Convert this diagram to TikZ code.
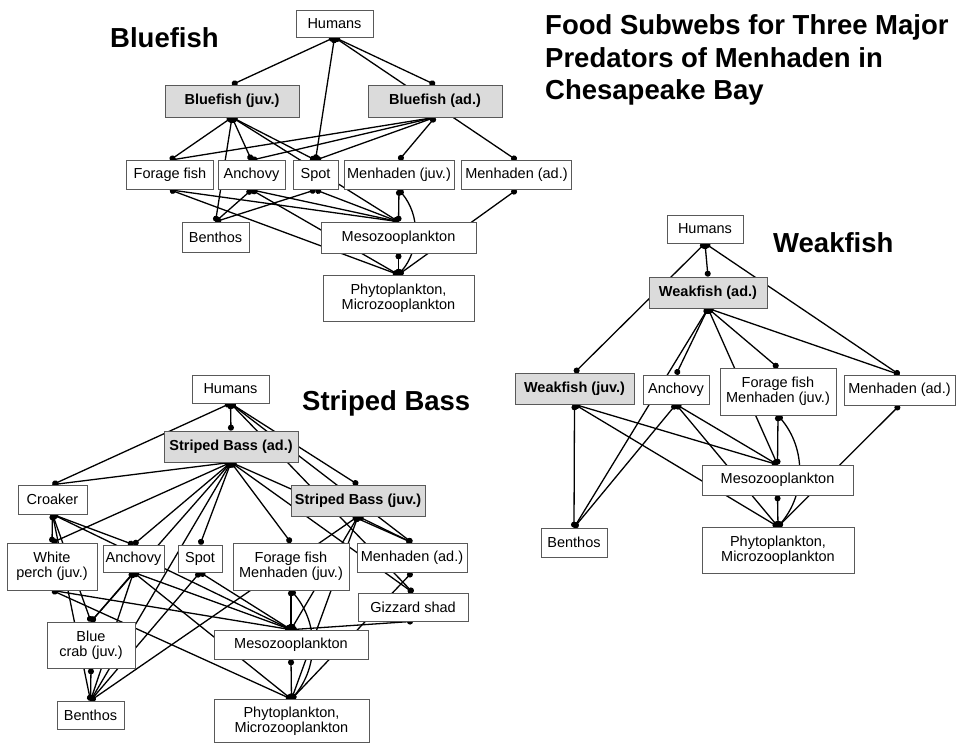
\documentclass[tikz,border=0pt]{standalone}
\usepackage{fontspec}
\setmainfont{Liberation Sans}
\usetikzlibrary{arrows.meta,backgrounds}
\tikzset{
  box/.style={draw=black!65, fill=white, line width=0.7pt, inner sep=1pt, align=center,
    font=\fontsize{14.5}{15}\selectfont},
  fish/.style={box, fill=black!14, font=\fontsize{14.5}{15}\selectfont\bfseries},
  sz/.style 2 args={minimum width=#1pt, minimum height=#2pt},
  link/.style={line width=1.3pt, {Circle[length=6pt]}-{Circle[length=6pt]}},
  heading/.style={anchor=base west, inner sep=0pt, font=\fontsize{27.5}{32.5}\selectfont\bfseries}
}

\begin{document}
\begin{tikzpicture}[x=1pt,y=-1pt]
\useasboundingbox (0,0) rectangle (956,744);

% title
\node[heading, anchor=north west, align=left] (title) at (545,14.5)
  {Food Subwebs for Three Major\\Predators of Menhaden in\\Chesapeake Bay};

% Bluefish
\node[heading] (bftitle) at (110,47) {Bluefish};
\node[box,sz={77}{27}] (bhum) at (334.5,23.5) {Humans};
\node[fish,sz={134}{32}] (bfj) at (232,101) {Bluefish (juv.)};
\node[fish,sz={134}{32}] (bfa) at (435,101) {Bluefish (ad.)};
\node[box,sz={87}{29}] (bfor) at (170,175) {Forage fish};
\node[box,sz={67}{29}] (banc) at (251.5,175) {Anchovy};
\node[box,sz={45}{29}] (bspot) at (315.5,175) {Spot};
\node[box,sz={110}{29}] (bmj) at (399,175) {Menhaden (juv.)};
\node[box,sz={110}{29}] (bma) at (516.5,175) {Menhaden (ad.)};
\node[box,sz={67}{30}] (bben) at (215.5,237) {Benthos};
\node[box,sz={155}{31}] (bmeso) at (398.5,237.5) {Mesozooplankton};
\node[box,sz={151}{46}] (bphy) at (398.5,298) {Phytoplankton,\\Microzooplankton};

% Weakfish
\node[heading] (wftitle) at (773,252) {Weakfish};
\node[box,sz={76}{28}] (whum) at (705,229) {Humans};
\node[fish,sz={118}{31}] (wfa) at (708,292.5) {Weakfish (ad.)};
\node[fish,sz={119}{31}] (wfj) at (574.5,388.5) {Weakfish (juv.)};
\node[box,sz={66}{29}] (wanc) at (676,389.5) {Anchovy};
\node[box,sz={116}{47}] (wfor) at (778,391.5) {Forage fish\\Menhaden (juv.)};
\node[box,sz={111}{30}] (wma) at (899.5,390) {Menhaden (ad.)};
\node[box,sz={151}{30}] (wmeso) at (777.5,480) {Mesozooplankton};
\node[box,sz={66}{29}] (wben) at (574,542.5) {Benthos};
\node[box,sz={152}{46}] (wphy) at (778,550) {Phytoplankton,\\Microzooplankton};

% Striped Bass
\node[heading] (sbtitle) at (302,410) {Striped Bass};
\node[box,sz={77}{28}] (shum) at (230.5,389) {Humans};
\node[fish,sz={134}{31}] (sba) at (231,446.5) {Striped Bass (ad.)};
\node[box,sz={69}{29}] (scro) at (52.5,499.5) {Croaker};
\node[fish,sz={134}{31}] (sbj) at (358,500.5) {Striped Bass (juv.)};
\node[box,sz={90}{47}] (swp) at (52,566.5) {White\\perch (juv.)};
\node[box,sz={61}{27}] (sanc) at (133.5,558.5) {Anchovy};
\node[box,sz={44}{27}] (sspot) at (200,558.5) {Spot};
\node[box,sz={116}{47}] (sfor) at (291,566.5) {Forage fish\\Menhaden (juv.)};
\node[box,sz={110}{29}] (sma) at (412,557.5) {Menhaden (ad.)};
\node[box,sz={110}{28}] (sgiz) at (413,607) {Gizzard shad};
\node[box,sz={88}{46}] (sbc) at (91,645) {Blue\\crab (juv.)};
\node[box,sz={154}{29}] (smeso) at (291,644.5) {Mesozooplankton};
\node[box,sz={67}{28}] (sben) at (90.5,715) {Benthos};
\node[box,sz={155}{43}] (sphy) at (291.5,721) {Phytoplankton,\\Microzooplankton};

\begin{pgfonlayer}{background}
  % Bluefish links
  \foreach \t in {bfj,bfa,bspot,bma} \draw[link] (bhum.south) -- (\t.north);
  \foreach \t in {bfor,banc,bben,bspot,bmeso} \draw[link] (bfj.south) -- (\t.north);
  \foreach \t in {bfor,banc,bspot,bmj} \draw[link] (bfa.south) -- (\t.north);
  \foreach \t in {bmeso,bphy} \draw[link] (bfor.south) -- (\t.north);
  \foreach \t in {bben,bmeso,bphy} \draw[link] (banc.south) -- (\t.north);
  \foreach \t in {bben,bmeso} \draw[link] (bspot.south) -- (\t.north);
  \draw[link] (bmj.south) -- (bmeso.north);
  \draw[link] (bmj.south) to[bend left=40] (bphy.north);
  \draw[link] (bma.south) -- (bphy.north);
  \draw[link] (bmeso.south) -- (bphy.north);

  % Weakfish links
  \foreach \t in {wfa,wfj,wma} \draw[link] (whum.south) -- (\t.north);
  \foreach \t in {wanc,wben,wmeso,wfor,wma} \draw[link] (wfa.south) -- (\t.north);
  \foreach \t in {wben,wmeso,wphy} \draw[link] (wfj.south) -- (\t.north);
  \foreach \t in {wben,wmeso,wphy} \draw[link] (wanc.south) -- (\t.north);
  \draw[link] (wfor.south) -- (wmeso.north);
  \draw[link] (wfor.south) to[bend left=40] (wphy.north);
  \draw[link] (wma.south) -- (wphy.north);
  \draw[link] (wmeso.south) -- (wphy.north);

  % Striped Bass links
  \foreach \t in {scro,sba,sbj,sma,sgiz} \draw[link] (shum.south) -- (\t.north);
  \foreach \t in {scro,swp,sanc,sbc,sspot,sben,sfor,sma,sgiz} \draw[link] (sba.south) -- (\t.north);
  \foreach \t in {sben,smeso,sma,sphy} \draw[link] (sbj.south) -- (\t.north);
  \foreach \t in {swp,sanc,smeso,sbc,sben} \draw[link] (scro.south) -- (\t.north);
  \foreach \t in {smeso,sphy} \draw[link] (swp.south) -- (\t.north);
  \foreach \t in {sbc,sben,smeso,sphy} \draw[link] (sanc.south) -- (\t.north);
  \foreach \t in {sben,smeso} \draw[link] (sspot.south) -- (\t.north);
  \draw[link] (sfor.south) -- (smeso.north);
  \draw[link] (sfor.south) to[bend left=40] (sphy.north);
  \draw[link] (sma.south) -- (sphy.north);
  \draw[link] (sgiz.south) -- (smeso.north);
  \draw[link] (sbc.south) -- (sben.north);
  \draw[link] (smeso.south) -- (sphy.north);
\end{pgfonlayer}
\end{tikzpicture}
\end{document}
